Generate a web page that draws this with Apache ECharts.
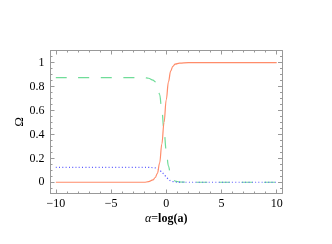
<!DOCTYPE html>
<html><head><meta charset="utf-8">
<script src="https://cdn.jsdelivr.net/npm/echarts@6/dist/echarts.min.js"></script>
<style>html,body{margin:0;padding:0;background:#fff}#c{width:332px;height:244px}</style>
</head><body><div id="c"></div>
<script>
const xs = [-10, -2, -1.6, -1.2, -1, -0.8, -0.6, -0.4, -0.2, 0, 0.2, 0.4, 0.6, 0.8, 1.2, 2, 10];
const omegaOrange = [0, 0, 0.005, 0.02, 0.04, 0.075, 0.16, 0.32, 0.5, 0.69, 0.84, 0.93, 0.97, 0.988, 0.997, 1, 1];
const omegaGreen = [0.875, 0.875, 0.87, 0.855, 0.84, 0.81, 0.735, 0.6, 0.43, 0.265, 0.135, 0.058, 0.024, 0.01, 0.002, 0, 0];
const omegaBlue = [0.125, 0.125, 0.125, 0.123, 0.12, 0.115, 0.105, 0.08, 0.07, 0.045, 0.025, 0.012, 0.006, 0.002, 0.001, 0, 0];
const xMajor = [-10, -5, 0, 5, 10];
const xMinor = [-10,-9,-8,-7,-6,-5,-4,-3,-2,-1,0,1,2,3,4,5,6,7,8,9,10];
const yMajor = [0, 0.2, 0.4, 0.6, 0.8, 1];
const yMinor = [-0.05,0,0.05,0.1,0.15,0.2,0.25,0.3,0.35,0.4,0.45,0.5,0.55,0.6,0.65,0.7,0.75,0.8,0.85,0.9,0.95,1,1.05];

const FRAME = '#999';
const font = 'Liberation Serif';
function pts(ys){ return xs.map((x,i)=>[x, ys[i]]); }
function mkX(pos, vals, len, labels, idx){
  return {type:'value', position:pos, min:-10.48, max:10.48, gridIndex:0,
    axisLine:{show:idx===0||idx===2, onZero:false, lineStyle:{color:FRAME,width:1}},
    axisTick:{show:true, inside:true, length:len, customValues:vals, lineStyle:{color:FRAME}},
    axisLabel:{show:labels, customValues:vals, margin:4, fontFamily:font, fontSize:12, color:'#000',
      formatter:v=>String(v).replace('-','\u2212')},
    splitLine:{show:false},
    name: idx===0 ? '{i|α}{n|=}{b|log(a)}' : '', nameLocation:'middle', nameGap:19, nameMoveOverlap:false,
    nameTextStyle:{rich:{i:{fontFamily:font,fontStyle:'italic',fontSize:12,color:'#000'},
      n:{fontFamily:font,fontSize:12,color:'#000'},
      b:{fontFamily:font,fontWeight:'bold',fontSize:12,color:'#000'}}}
  };
}
function mkY(pos, vals, len, labels, idx){
  return {type:'value', position:pos, min:-0.094, max:1.102, gridIndex:0,
    axisLine:{show:idx===0||idx===2, onZero:false, lineStyle:{color:FRAME,width:1}},
    axisTick:{show:true, inside:true, length:len, customValues:vals, lineStyle:{color:FRAME}},
    axisLabel:{show:labels, customValues:vals, margin:6, fontFamily:font, fontSize:12, color:'#000',
      formatter:v=>String(v)},
    splitLine:{show:false},
    name: idx===0 ? 'Ω' : '', nameLocation:'middle', nameGap:24, nameRotate:90, nameMoveOverlap:false,
    nameTextStyle:{fontFamily:font, fontSize:13, color:'#000'}
  };
}
const chart = echarts.init(document.getElementById('c'), null, {renderer:'canvas'});
chart.setOption({
  animation:false,
  grid:{left:50.5, right:50, top:50.5, bottom:50.5},
  xAxis:[mkX('bottom',xMajor,4,true,0), mkX('bottom',xMinor,2,false,1), mkX('top',xMajor,4,false,2), mkX('top',xMinor,2,false,3)],
  yAxis:[mkY('left',yMajor,4,true,0), mkY('left',yMinor,2,false,1), mkY('right',yMajor,4,false,2), mkY('right',yMinor,2,false,3)],
  series:[
    {type:'line', data:pts(omegaGreen), showSymbol:false, smooth:0.4, smoothMonotone:'x',
      lineStyle:{color:'#6fdc98', width:1.2, type:[11,11.5]}},
    {type:'line', data:pts(omegaBlue), showSymbol:false, smooth:0.4, smoothMonotone:'x',
      lineStyle:{color:'#5a5aff', width:1.2, type:[1,2.3]}},
    {type:'line', data:pts(omegaOrange), showSymbol:false, smooth:0.4, smoothMonotone:'x',
      lineStyle:{color:'#ff8c6a', width:1.2}}
  ]
});
</script></body></html>
